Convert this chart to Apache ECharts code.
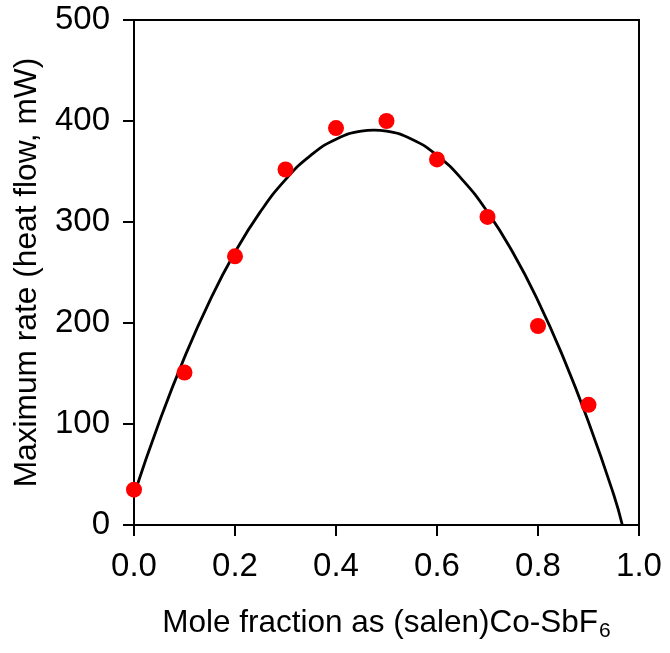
<!DOCTYPE html>
<html>
<head>
<meta charset="utf-8">
<script src="https://cdn.jsdelivr.net/npm/echarts@6/dist/echarts.min.js"></script>
<style>
  html, body { margin: 0; padding: 0; background: #fff; }
  #chart { width: 670px; height: 653px; }
</style>
</head>
<body>
<div id="chart"></div>
<script>
// measured points (mole fraction, max rate)
var moleFraction = [0.0, 0.1, 0.2, 0.3, 0.4, 0.5, 0.6, 0.7, 0.8, 0.9];
var maxRate = [35, 151, 266, 352, 393, 400, 362, 305, 197, 119];

// fitted curve
var fitX = [0, 0.05, 0.1, 0.15, 0.2, 0.25, 0.3, 0.35, 0.4, 0.45, 0.475, 0.5, 0.55, 0.6, 0.65, 0.7, 0.75, 0.8, 0.85, 0.9, 0.95, 0.967];
var fitY = [30, 102, 166, 222, 270, 310, 342, 366, 382, 390, 391, 390, 382, 366, 342, 310, 270, 222, 166, 102, 30, 0];

var xTicks = [0, 0.2, 0.4, 0.6, 0.8, 1.0];
var yTicks = [0, 100, 200, 300, 400, 500];

var chart = echarts.init(document.getElementById('chart'));

var font = 'Liberation Sans, Arial, Helvetica, sans-serif';

var option = {
    backgroundColor: '#fff',
    animation: false,
    grid: {
        left: 134,
        right: 31,
        top: 20,
        bottom: 128,
        outerBoundsMode: 'none',
        containLabel: false,
        show: true,
        borderColor: '#000',
        borderWidth: 2
    },
    xAxis: {
        type: 'value',
        min: xTicks[0],
        max: xTicks[xTicks.length - 1],
        interval: 0.2,
        name: '{a|Mole fraction as (salen)Co-SbF}{sub|6}',
        nameLocation: 'middle',
        nameGap: 80,
        nameTextStyle: {
            fontFamily: font,
            color: '#000',
            rich: {
                a: { fontSize: 31.5, fontFamily: font, color: '#000' },
                sub: { fontSize: 21, fontFamily: font, color: '#000', padding: [16, 0, 0, 1] }
            }
        },
        axisLine: { lineStyle: { color: '#000', width: 2 } },
        axisTick: { inside: false, length: 11, lineStyle: { color: '#000', width: 2 } },
        axisLabel: {
            margin: 25,
            fontSize: 33,
            fontFamily: font,
            color: '#000',
            formatter: function (v) { return v.toFixed(1); }
        },
        splitLine: { show: false }
    },
    yAxis: {
        type: 'value',
        min: yTicks[0],
        max: yTicks[yTicks.length - 1],
        interval: 100,
        name: 'Maximum rate (heat flow, mW)',
        nameLocation: 'middle',
        nameGap: 91,
        nameTextStyle: { fontSize: 31.7, fontFamily: font, color: '#000' },
        axisLine: { lineStyle: { color: '#000', width: 2 } },
        axisTick: { inside: false, length: 11, lineStyle: { color: '#000', width: 2 } },
        axisLabel: {
            margin: 24,
            fontSize: 33,
            fontFamily: font,
            color: '#000'
        },
        splitLine: { show: false }
    },
    series: [
        {
            type: 'line',
            data: fitX.map(function (x, i) { return [x, fitY[i]]; }),
            smooth: true,
            showSymbol: false,
            lineStyle: { color: '#000', width: 2.8 },
            z: 2
        },
        {
            type: 'scatter',
            data: moleFraction.map(function (x, i) { return [x, maxRate[i]]; }),
            symbol: 'circle',
            symbolSize: 16,
            itemStyle: { color: '#ff0000', opacity: 1 },
            z: 3
        }
    ]
};

chart.setOption(option);
</script>
</body>
</html>
